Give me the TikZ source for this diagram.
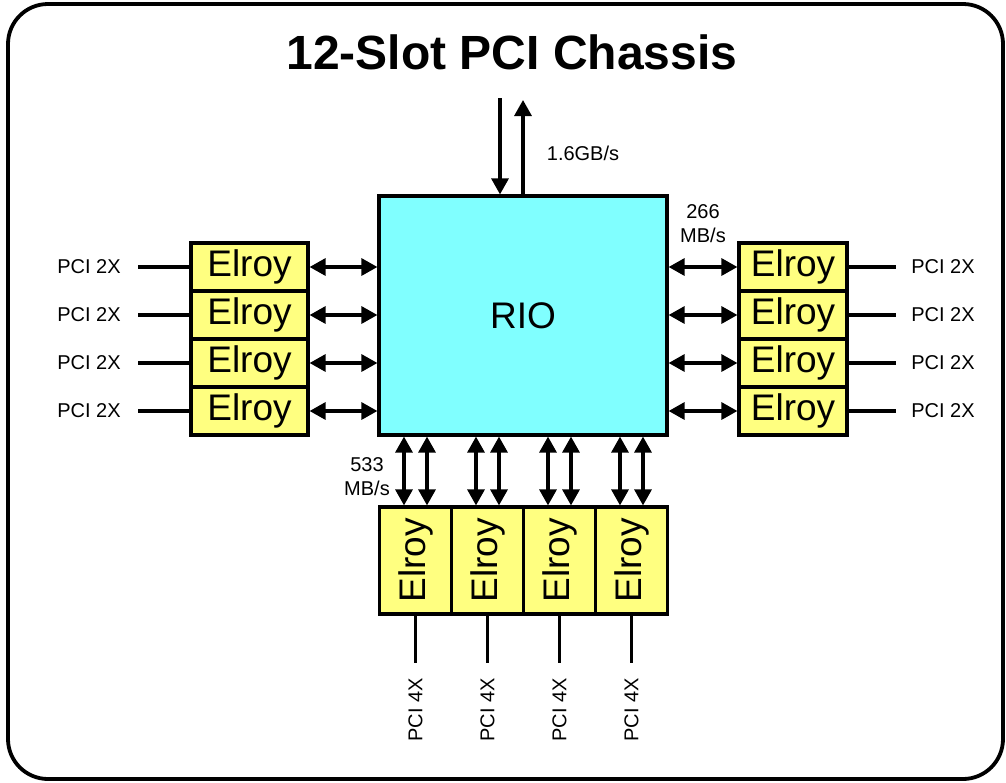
\documentclass[tikz,border=0pt]{standalone}
\usepackage{fontspec}
\setmainfont{Liberation Sans}
\usetikzlibrary{arrows.meta}
\definecolor{riocyan}{HTML}{80FFFF}
\definecolor{elroyyellow}{HTML}{FFFF80}
\tikzset{
  box/.style={draw=black, line width=3.2pt, inner sep=0pt, font=\fontsize{37}{40}\selectfont},
  elroyh/.style={box, fill=elroyyellow, minimum height=48pt},
  elroyv/.style={box, fill=elroyyellow, minimum width=72pt, minimum height=107pt},
  lbl/.style={inner sep=0pt, font=\fontsize{20}{24}\selectfont, align=center},
  wire/.style={line width=3.2pt},
  tip/.style={},
  biarrow/.style={line width=3.2pt, {Triangle[length=16pt,width=17pt]}-{Triangle[length=16pt,width=17pt]}},
  uniarrow/.style={line width=3.2pt, -{Triangle[length=16pt,width=17pt]}},
}
\begin{document}
\begin{tikzpicture}[x=1pt,y=-1pt]
\useasboundingbox (0,0) rectangle (1006,782);
\draw[line width=3.8pt, rounded corners=40pt] (8,4) rectangle (1003,779);
\node[font=\fontsize{48}{52}\selectfont\bfseries, inner sep=0pt] (title) at (512,52) {12-Slot PCI Chassis};

% RIO
\node[box, fill=riocyan, minimum width=288pt, minimum height=239pt] (RIO) at (523,315.5) {RIO};

% left / right Elroys
\foreach \i/\y in {1/267,2/315,3/363,4/411}{
  \node[elroyh, minimum width=117pt] (L\i) at (249.5,\y) {Elroy};
  \node[elroyh, minimum width=108pt] (R\i) at (793,\y) {Elroy};
  \coordinate (lw\i) at (138,\y);
  \coordinate (rw\i) at (896,\y);
  \node[lbl] (lt\i) at (89,\y) {PCI 2X};
  \node[lbl] (rt\i) at (943,\y) {PCI 2X};
  \draw[biarrow] (L\i.east) -- (L\i.east -| RIO.west);
  \draw[biarrow] (RIO.east |- R\i.west) -- (R\i.west);
  \draw[wire] (lw\i) -- (L\i.west);
  \draw[wire] (R\i.east) -- (rw\i);
}

% bottom Elroys
\foreach \i/\x in {1/415.5,2/487.5,3/559.5,4/631.5}{
  \node[elroyv] (B\i) at (\x,560.5) {};
  \node[font=\fontsize{37}{40}\selectfont, rotate=90, inner sep=0pt] (Bt\i) at (B\i.center) {Elroy};
  \draw[biarrow] ([xshift=-11.5pt]B\i.north |- RIO.south) -- ([xshift=-11.5pt]B\i.north);
  \draw[biarrow] ([xshift=11.5pt]B\i.north |- RIO.south) -- ([xshift=11.5pt]B\i.north);
  \coordinate (bw\i) at (\x,663);
  \draw[wire] (B\i.south) -- (bw\i);
  \node[lbl, rotate=90] (bt\i) at (\x,710) {PCI 4X};
}

% top arrows
\coordinate (tin) at (500,98);
\coordinate (tout) at (523,100);
\draw[uniarrow] (tin) -- (tin |- RIO.north);
\draw[uniarrow] (tout |- RIO.north) -- (tout);
\node[lbl] (gb) at (583,153) {1.6GB/s};

\node[lbl] (l266) at (703,224) {266\\MB/s};
\node[lbl] (l533) at (367,477) {533\\MB/s};
\end{tikzpicture}
\end{document}
